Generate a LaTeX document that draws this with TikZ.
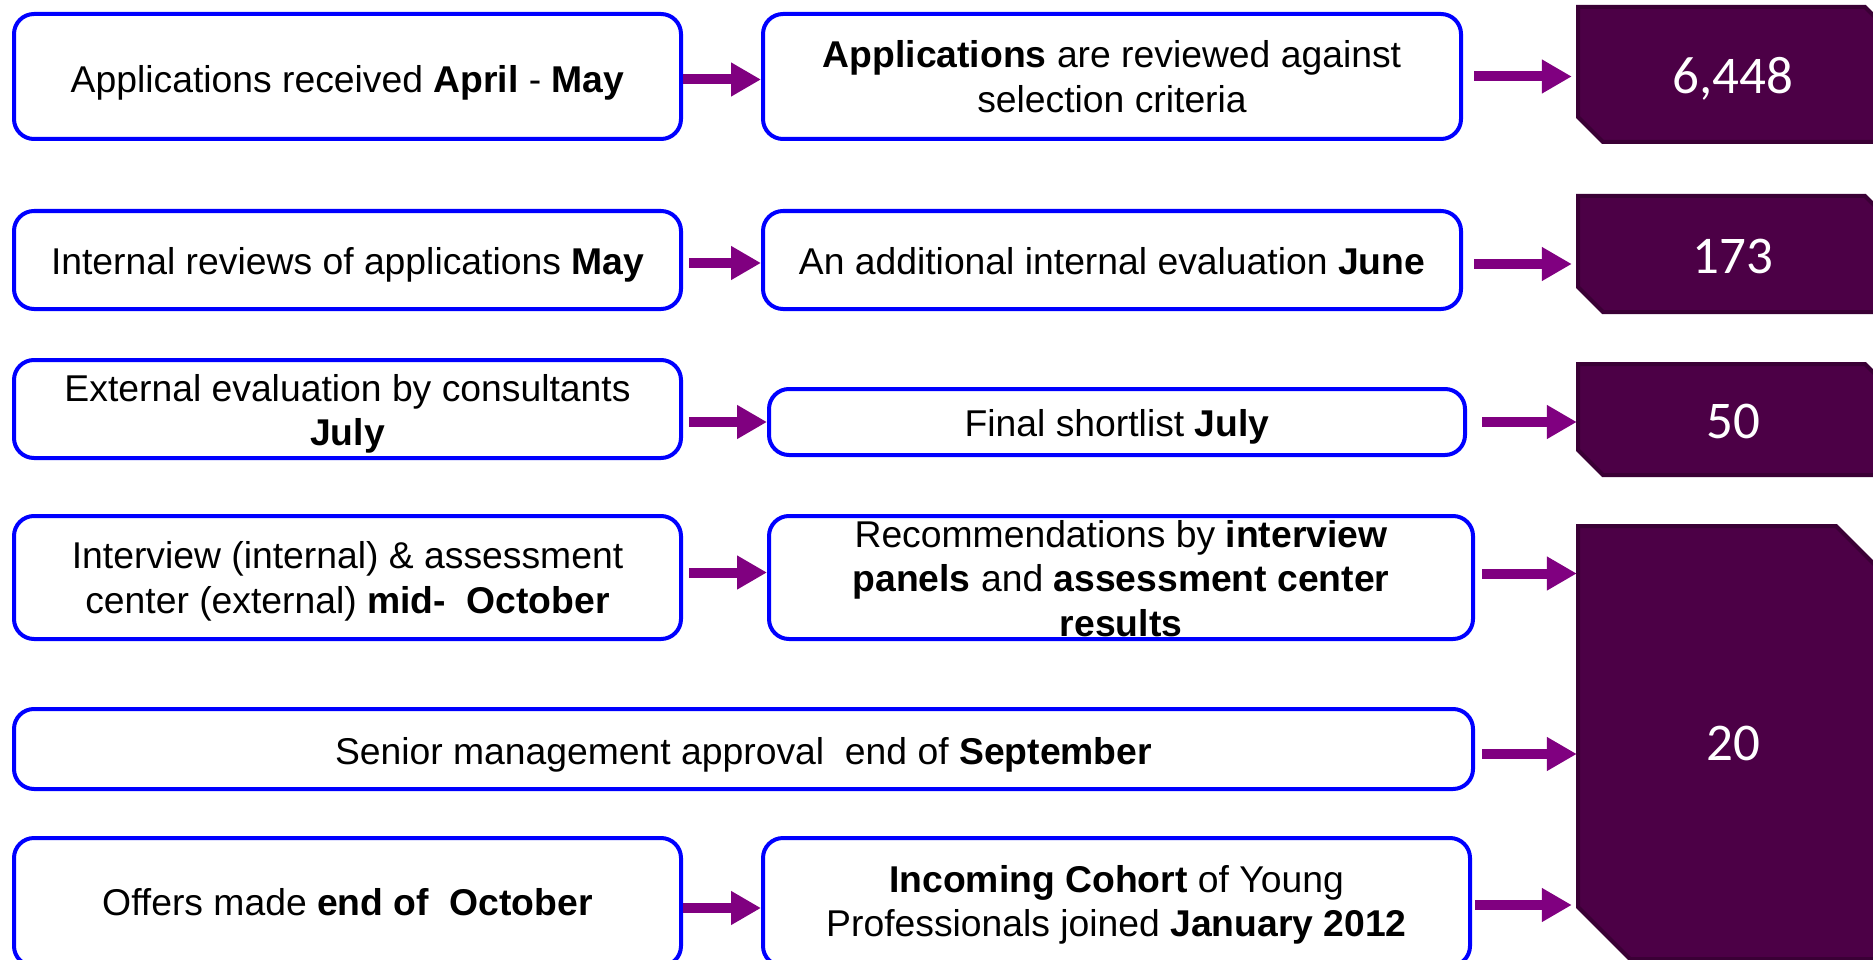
\documentclass[tikz,border=0pt]{standalone}
\usepackage{fontspec}
\setmainfont{Liberation Sans}
\newfontfamily\numfont{Carlito}
\usetikzlibrary{arrows.meta}
\definecolor{boxblue}{RGB}{0,0,255}
\definecolor{arrpurple}{RGB}{128,0,128}
\definecolor{pfill}{RGB}{76,0,70}
\definecolor{pdraw}{RGB}{58,0,53}
\begin{document}
\begin{tikzpicture}[x=1pt,y=-1pt,
  stagebox/.style={draw=boxblue, line width=4pt, rounded corners=20pt, inner sep=0pt},
  txt/.style={align=center, inner sep=0pt, font=\fontsize{37.3}{44.5}\selectfont},
  conn/.style={draw=arrpurple, line width=10pt, -{Triangle[length=30pt,width=32pt]}},
  numtext/.style={text=white, font=\numfont\fontsize{53}{60}\selectfont, inner sep=0pt},
  pbox/.style={fill=pfill, draw=pdraw, line width=4pt, line join=miter}]
\useasboundingbox (0,0) rectangle (1873,960);
\clip (0,0) rectangle (1873,960);

% purple count boxes
\path[pbox] (1578,7) -- (1865,7) -- (1890,32) -- (1890,142) -- (1603,142) -- (1578,117) -- cycle;
\path[pbox] (1578,196) -- (1865,196) -- (1890,221) -- (1890,312) -- (1603,312) -- (1578,287) -- cycle;
\path[pbox] (1578,364) -- (1865,364) -- (1890,389) -- (1890,475) -- (1603,475) -- (1578,450) -- cycle;
\path[pbox] (1578,526) -- (1836,526) -- (1888,578) -- (1888,959) -- (1630,959) -- (1578,907) -- cycle;

\node[numtext, minimum width=312pt, minimum height=135pt] (p1) at (1733,79) {6,448};
\node[numtext, minimum width=312pt, minimum height=116pt] (p2) at (1733,256) {173};
\node[numtext, minimum width=312pt, minimum height=111pt] (p3) at (1733,421) {50};
\node[numtext, minimum width=312pt, minimum height=433pt] (p4) at (1733,743) {20};

% stage boxes
\node[stagebox, minimum width=667pt, minimum height=125pt,
  label={[txt, yshift=-6pt]center:{Applications received \textbf{April} - \textbf{May}}}] (l1) at (347.5,76.5) {};
\node[stagebox, minimum width=698pt, minimum height=125pt,
  label={[txt]center:{\textbf{Applications} are reviewed against\\selection criteria}}] (m1) at (1112,76.5) {};

\node[stagebox, minimum width=667pt, minimum height=98pt,
  label={[txt, yshift=-5pt]center:{Internal reviews of applications \textbf{May}}}] (l2) at (347.5,260) {};
\node[stagebox, minimum width=698pt, minimum height=98pt,
  label={[txt, yshift=-1pt]center:{An additional internal evaluation \textbf{June}}}] (m2) at (1112,260) {};

\node[stagebox, minimum width=667pt, minimum height=98pt,
  label={[txt, yshift=-5pt]center:{External evaluation by consultants\\\textbf{July}}}] (l3) at (347.5,409) {};
\node[stagebox, minimum width=696pt, minimum height=66pt,
  label={[txt, yshift=-5pt]center:{Final shortlist \textbf{July}}}] (m3) at (1117,422) {};

\node[stagebox, minimum width=667pt, minimum height=123pt,
  label={[txt, yshift=-4pt]center:{Interview (internal) \& assessment\\center (external) \textbf{mid-\ \ October}}}] (l4) at (347.5,577.5) {};
\node[stagebox, minimum width=704pt, minimum height=123pt,
  label={[txt, yshift=-1pt]center:{Recommendations by \textbf{interview}\\\textbf{panels} and \textbf{assessment center}\\\textbf{results}}}] (m4) at (1121,577.5) {};

\node[stagebox, minimum width=1459pt, minimum height=80pt,
  label={[txt, yshift=-6pt]center:{Senior management approval\ \ end of \textbf{September}}}] (s5) at (743.5,749) {};

\node[stagebox, minimum width=667pt, minimum height=128pt,
  label={[txt]center:{Offers made \textbf{end of\ \ October}}}] (l6) at (347.5,902) {};
\node[stagebox, minimum width=707pt, minimum height=128pt,
  label={[txt, yshift=-3pt]center:{\textbf{Incoming Cohort} of Young\\Professionals joined \textbf{January 2012}}}] (m6) at (1116.5,902) {};

% connectors
\draw[conn] ([yshift=-3pt]l1.east) -- ([yshift=-3pt]m1.west);
\draw[conn, shorten <=11pt, shorten >=5pt] (m1.east) -- (m1.east -| p1.west);
\draw[conn, shorten <=6pt] ([yshift=-3pt]l2.east) -- ([yshift=-3pt]m2.west);
\draw[conn, shorten <=11pt, shorten >=5pt] ([yshift=-4pt]m2.east) -- ([yshift=-4pt]m2.east -| p2.west);
\draw[conn, shorten <=6pt] (l3.east |- m3.west) -- (m3.west);
\draw[conn, shorten <=15pt] (m3.east) -- (m3.east -| p3.west);
\draw[conn, shorten <=6pt] ([yshift=5pt]l4.east) -- ([yshift=5pt]m4.west);
\draw[conn, shorten <=7pt] ([yshift=4pt]m4.east) -- ([yshift=4pt]m4.east -| p4.west);
\draw[conn, shorten <=7pt] ([yshift=-5pt]s5.east) -- ([yshift=-5pt]s5.east -| p4.west);
\draw[conn] ([yshift=-6pt]l6.east) -- ([yshift=-6pt]m6.west);
\draw[conn, shorten <=3pt, shorten >=5pt] ([yshift=-3pt]m6.east) -- ([yshift=-3pt]m6.east -| p4.west);
\end{tikzpicture}
\end{document}
